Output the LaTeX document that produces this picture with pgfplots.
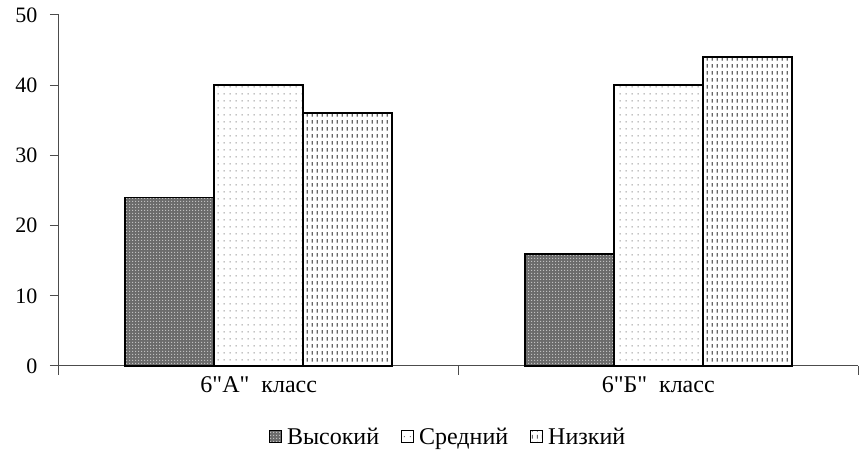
\documentclass[border=0pt]{standalone}
\usepackage{fontspec}
\setmainfont{Liberation Serif}[Ligatures=TeXOff]
\usepackage{pgfplots}
\pgfplotsset{compat=1.18}
\usetikzlibrary{patterns}

% sparse dots, vertical dashes, fine checker for the dark bars
\pgfdeclarepatternformonly{sdots}{\pgfpointorigin}{\pgfpoint{6pt}{7pt}}{\pgfpoint{6pt}{7pt}}{%
  \pgfpathrectangle{\pgfpoint{2pt}{3pt}}{\pgfpoint{1.1pt}{1.1pt}}\pgfusepath{fill}}
\pgfdeclarepatternformonly{vdash}{\pgfpointorigin}{\pgfpoint{5pt}{7pt}}{\pgfpoint{5pt}{7pt}}{%
  \pgfpathrectangle{\pgfpoint{2pt}{1.5pt}}{\pgfpoint{1.3pt}{4pt}}\pgfusepath{fill}}
\pgfdeclarepatternformonly{chk}{\pgfpointorigin}{\pgfpoint{3pt}{3pt}}{\pgfpoint{3pt}{3pt}}{%
  \pgfpathrectangle{\pgfpoint{0pt}{0pt}}{\pgfpoint{1.5pt}{1.5pt}}\pgfusepath{fill}}

\begin{document}
\begin{tikzpicture}
\fontsize{22}{26}\selectfont
\begin{axis}[
    at={(0,0)}, anchor=south west,
    scale only axis,
    width=799pt, height=351pt,
    ybar=0pt,
    bar width=0.223,
    xmin=-0.5, xmax=1.5,
    ymin=0, ymax=50,
    enlargelimits=false,
    axis x line*=bottom,
    axis y line*=left,
    axis line style={black!70, line width=1pt},
    every tick/.style={black!70, line width=1pt},
    tick align=outside,
    major tick length=9pt,
    ytick={0,10,...,50},
    xtick={-0.5,0.5,1.5},
    xticklabels={},
    extra x ticks={0,1},
    extra x tick labels={{6"А"~~класс}, {6"Б"~~класс}},
    extra x tick style={major tick length=0pt,
      xticklabel style={yshift=-3pt, font=\fontsize{24}{28}\selectfont}},
    yticklabel style={xshift=-5pt},
    tick label style={font=\fontsize{22}{26}\selectfont},
    /pgf/number format/assume math mode=true,
    legend style={draw=none, fill=none, at={(0.487,-0.205)}, anchor=center,
      legend columns=-1, font=\fontsize{24}{28}\selectfont,
      /tikz/every odd column/.append style={column sep=3pt},
      /tikz/every even column/.append style={column sep=20pt}},
    legend image code/.code={\draw[#1, line width=1pt] (0pt,-5pt) rectangle (12pt,7pt);},
    clip=false,
]
\addplot[draw=black, line width=1.9pt, fill=black!58,
  postaction={pattern=chk, pattern color=black!25}]
  coordinates {(0,24) (1,16)};
\addplot[draw=black, line width=1.9pt, fill=white,
  postaction={pattern=sdots, pattern color=black!55}]
  coordinates {(0,40) (1,40)};
\addplot[draw=black, line width=1.9pt, fill=white,
  postaction={pattern=vdash, pattern color=black!60}]
  coordinates {(0,36) (1,44)};
\legend{Высокий, Средний, Низкий}
\end{axis}
\pgfresetboundingbox
\path (-59pt,-88pt) rectangle (801pt,366pt);
\end{tikzpicture}
\end{document}
